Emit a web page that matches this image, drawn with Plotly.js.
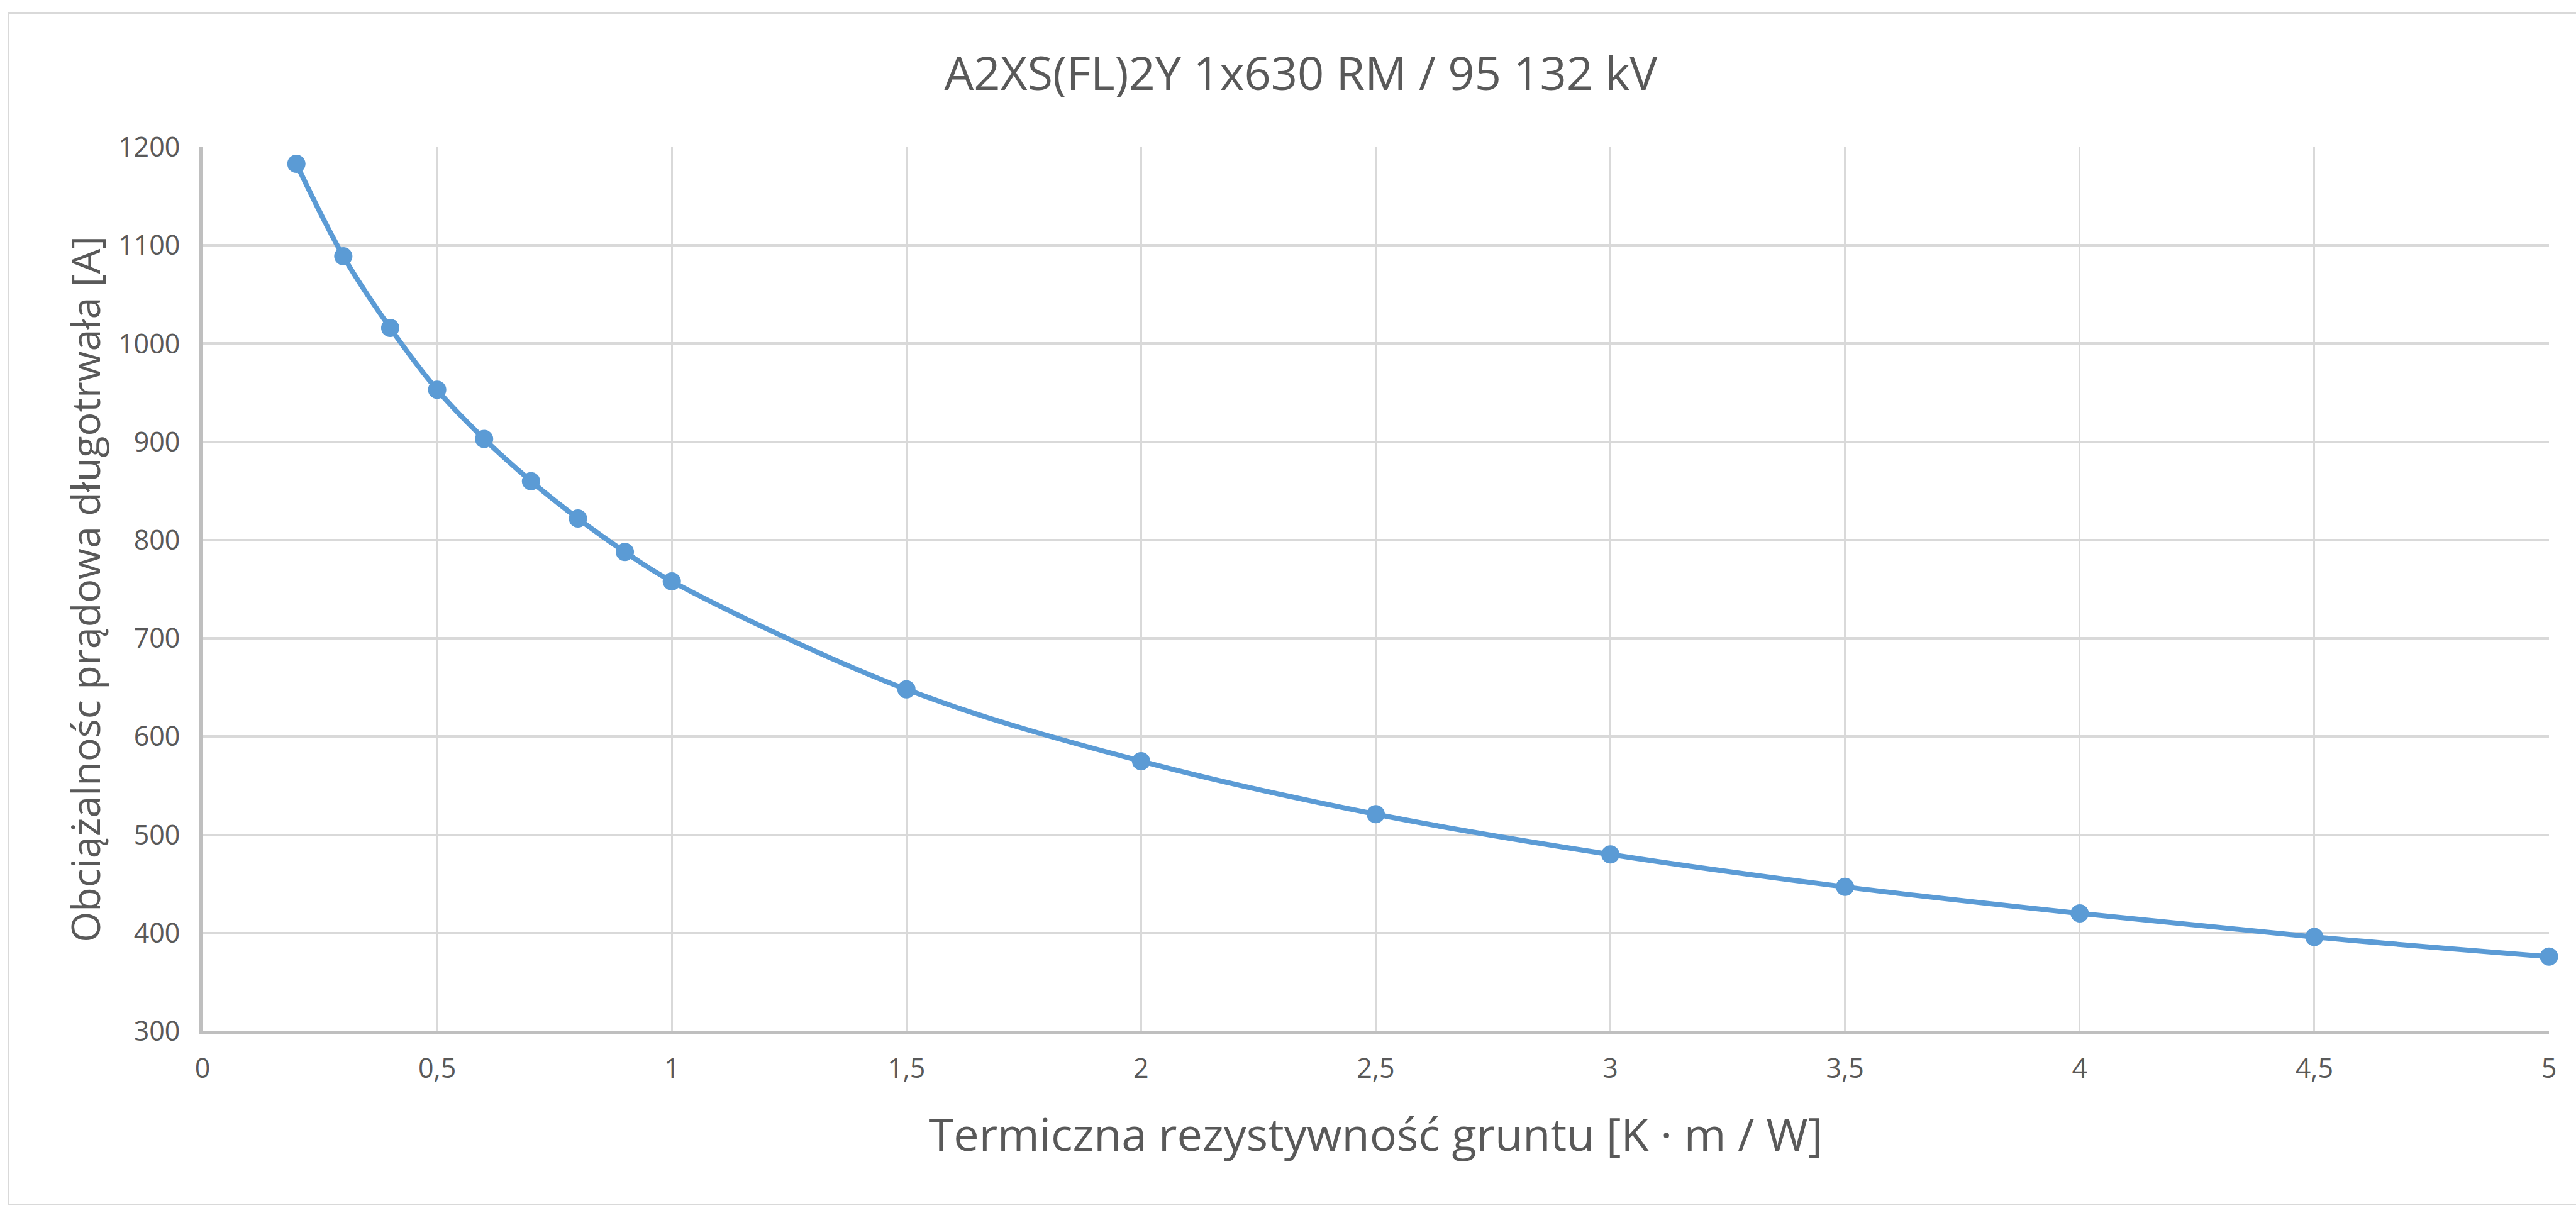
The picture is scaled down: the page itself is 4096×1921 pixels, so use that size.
<!DOCTYPE html>
<html>
<head>
<meta charset="utf-8">
<script src="https://cdn.plot.ly/plotly-3.0.1.min.js"></script>
<style>
  html, body { margin: 0; padding: 0; background: #ffffff; }
  #wrap { position: relative; width: 4096px; height: 1921px; }
  #chart { position: absolute; left: 0; top: 0; width: 4096px; height: 1921px; }
  #frame { position: absolute; left: 12px; top: 19px; width: 4200px; height: 1898px;
           border: 3px solid #d9d9d9; border-right: none; pointer-events: none; box-sizing: border-box; }
</style>
</head>
<body>
<div id="wrap">
  <div id="chart"></div>
  <div id="frame"></div>
</div>
<script>
// Data
const resistivity = [0.2, 0.3, 0.4, 0.5, 0.6, 0.7, 0.8, 0.9, 1.0, 1.5, 2.0, 2.5, 3.0, 3.5, 4.0, 4.5, 5.0];
const ampacity    = [1183, 1089, 1016, 953, 903, 860, 822, 788, 758, 648, 575, 521, 480, 447, 420, 396, 376];

const chartTitle = 'A2XS(FL)2Y 1x630 RM / 95 132 kV';
const xTitle = 'Termiczna rezystywność gruntu [K · m / W]';
const yTitle = 'Obciążalnośc prądowa długotrwała [A]';

const xTickVals = [0, 0.5, 1, 1.5, 2, 2.5, 3, 3.5, 4, 4.5, 5];
const yTickVals = [300, 400, 500, 600, 700, 800, 900, 1000, 1100, 1200];

const textColor = '#595959';
const fontFam = '"Open Sans", "Noto Sans", sans-serif';

const trace = {
  x: resistivity,
  y: ampacity,
  type: 'scatter',
  mode: 'lines+markers',
  line: { color: '#5b9bd5', width: 8, shape: 'spline', smoothing: 1 },
  marker: { color: '#5b9bd5', size: 29, symbol: 'circle' },
  cliponaxis: false,
  hoverinfo: 'x+y'
};

const layout = {
  width: 4096,
  height: 1921,
  paper_bgcolor: 'rgba(0,0,0,0)',
  plot_bgcolor: '#ffffff',
  separators: ', ',
  showlegend: false,
  margin: { l: 322, r: 43, t: 234, b: 281, pad: 0 },
  font: { family: fontFam, color: textColor },
  title: {
    text: chartTitle,
    font: { family: fontFam, size: 74, color: textColor },
    x: 0.505, xref: 'container', xanchor: 'center',
    y: 1 - 117 / 1921, yref: 'container', yanchor: 'middle'
  },
  xaxis: {
    range: [0, 5],
    tickvals: xTickVals,
    showgrid: true,
    gridcolor: '#d9d9d9',
    gridwidth: 3,
    zeroline: false,
    showline: true,
    linecolor: '#bfbfbf',
    linewidth: 5,
    ticks: '',
    ticklabelstandoff: 17,
    tickfont: { family: fontFam, size: 43, color: textColor },
    title: { text: xTitle, font: { family: fontFam, size: 72, color: textColor }, standoff: 56 }
  },
  yaxis: {
    range: [300, 1200],
    tickvals: yTickVals,
    showgrid: true,
    gridcolor: '#d9d9d9',
    gridwidth: 4,
    zeroline: false,
    showline: true,
    linecolor: '#bfbfbf',
    linewidth: 5,
    ticks: '',
    ticklabelstandoff: 22,
    tickfont: { family: fontFam, size: 43, color: textColor },
    title: { text: yTitle, font: { family: fontFam, size: 63, color: textColor }, standoff: 9 }
  }
};

Plotly.newPlot('chart', [trace], layout, { displayModeBar: false, staticPlot: true });
</script>
</body>
</html>
